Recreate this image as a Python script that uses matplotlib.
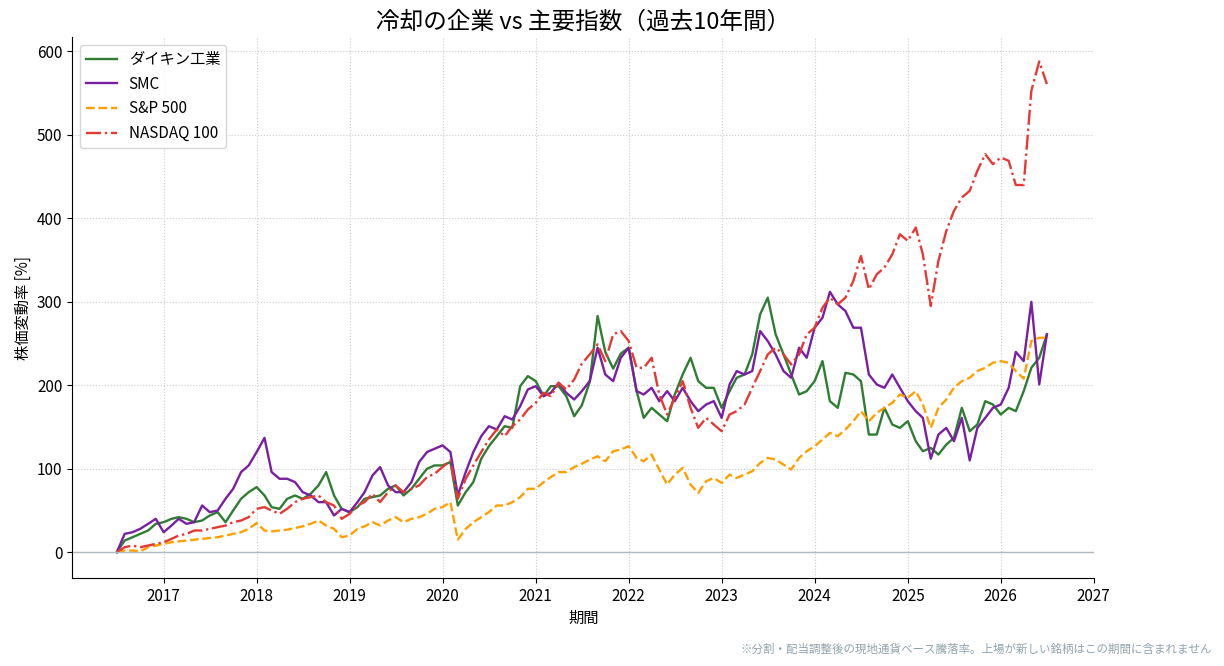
import matplotlib
matplotlib.use("Agg")
import matplotlib.pyplot as plt
import matplotlib.dates as mdates
import pandas as pd

plt.rcParams["font.family"] = ["Noto Sans CJK JP", "DejaVu Sans"]

# monthly samples, 2016-07 .. 2026-07
dates = pd.date_range("2016-07-01", "2026-07-01", freq="MS")

daikin = [
    0, 14, 18, 22, 26, 34,
    36, 40, 42, 40, 36, 38, 44, 48, 36, 50, 64, 72,
    78, 68, 54, 52, 64, 68, 64, 70, 80, 96, 68, 52,
    48, 54, 64, 66, 68, 76, 80, 68, 76, 88, 100, 104,
    104, 108, 56, 72, 84, 112, 127, 139, 151, 149, 199, 211,
    205, 187, 199, 199, 187, 163, 176, 204, 283, 240, 220, 238,
    245, 193, 161, 173, 165, 157, 189, 213, 233, 205, 197, 197,
    173, 193, 209, 213, 237, 285, 305, 261, 237, 213, 189, 193,
    205, 229, 181, 173, 215, 213, 205, 141, 141, 173, 153, 149,
    157, 133, 121, 125, 117, 129, 137, 173, 145, 153, 181, 177,
    165, 173, 169, 193, 221, 233, 261,
]

smc = [
    0, 22, 24, 28, 34, 40,
    24, 32, 40, 34, 36, 56, 48, 50, 64, 76, 96, 104,
    120, 137, 96, 88, 88, 84, 72, 68, 60, 60, 44, 52,
    48, 60, 72, 92, 102, 80, 72, 72, 84, 108, 120, 124,
    128, 120, 68, 96, 120, 139, 151, 147, 163, 159, 175, 195,
    199, 187, 191, 203, 191, 183, 193, 205, 245, 213, 205, 233,
    245, 193, 189, 197, 181, 193, 181, 197, 181, 169, 177, 181,
    161, 201, 217, 213, 217, 265, 253, 237, 217, 209, 245, 233,
    269, 281, 312, 297, 289, 269, 269, 213, 201, 197, 213, 197,
    181, 169, 161, 112, 141, 149, 133, 161, 110, 149, 161, 173,
    177, 197, 240, 229, 300, 201, 261,
]

sp500 = [
    0, 2, 2, 1, 6, 8,
    10, 12, 13, 14, 15, 16, 17, 18, 20, 22, 24, 28,
    35, 26, 25, 26, 27, 29, 31, 34, 38, 32, 28, 18,
    20, 28, 31, 36, 32, 38, 42, 36, 40, 42, 46, 52,
    54, 60, 15, 28, 36, 42, 48, 56, 56, 60, 66, 76,
    76, 84, 90, 96, 96, 102, 106, 111, 115, 109, 121, 123,
    127, 113, 109, 117, 99, 81, 93, 101, 81, 71, 85, 89,
    83, 93, 89, 93, 97, 107, 113, 111, 105, 99, 113, 121,
    127, 135, 143, 139, 147, 157, 169, 157, 167, 173, 179, 189,
    185, 193, 177, 149, 173, 183, 197, 205, 209, 217, 221, 227,
    229, 227, 217, 208, 253, 257, 257,
]

nasdaq = [
    0, 6, 8, 6, 8, 10,
    12, 16, 20, 22, 26, 26, 28, 30, 32, 36, 38, 42,
    52, 54, 50, 46, 52, 60, 64, 66, 68, 60, 56, 40,
    46, 56, 60, 70, 60, 72, 80, 72, 76, 80, 90, 94,
    102, 110, 64, 88, 104, 120, 135, 147, 139, 151, 159, 171,
    179, 191, 187, 203, 195, 207, 226, 237, 249, 229, 261, 265,
    253, 221, 221, 233, 189, 165, 185, 205, 173, 149, 161, 153,
    145, 165, 169, 177, 197, 217, 237, 245, 237, 225, 237, 261,
    269, 293, 305, 297, 305, 325, 355, 315, 333, 341, 357, 381,
    373, 389, 357, 295, 349, 385, 409, 425, 433, 457, 477, 465,
    473, 469, 440, 440, 553, 588, 561,
]

series = [
    ("ダイキン工業", daikin, "#2e7d32", "-"),
    ("SMC", smc, "#7b1fa2", "-"),
    ("S&P 500", sp500, "#ffa000", "--"),
    ("NASDAQ 100", nasdaq, "#e53935", "-."),
]

fig = plt.figure(figsize=(12.24, 6.66), dpi=100)
ax = fig.add_axes([0.059, 0.132, 0.835, 0.812])

for name, values, colour, style in series:
    ax.plot(dates, values, style, color=colour, linewidth=1.7, label=name)

ax.axhline(0, color="#b0b8c0", linewidth=1)
ax.grid(True, linestyle=":", color="#cccccc", linewidth=0.8)
ax.spines["top"].set_visible(False)
ax.spines["right"].set_visible(False)

ax.set_xlim(pd.Timestamp("2016-01-08"), pd.Timestamp("2027-01-03"))
ax.set_ylim(-31, 617)
ax.xaxis.set_major_locator(mdates.YearLocator())
ax.xaxis.set_major_formatter(mdates.DateFormatter("%Y"))
ax.tick_params(labelsize=11)

ax.set_title("冷却の企業 vs 主要指数（過去10年間）", fontsize=17)
ax.set_xlabel("期間", fontsize=11)
ax.set_ylabel("株価変動率 [%]", fontsize=11)
ax.legend(loc="upper left", fontsize=11)

fig.text(0.99, 0.015, "※分割・配当調整後の現地通貨ベース騰落率。上場が新しい銘柄はこの期間に含まれません",
         ha="right", va="bottom", fontsize=8.3, color="#90a4ae")

fig.savefig("out.png", dpi=100)
